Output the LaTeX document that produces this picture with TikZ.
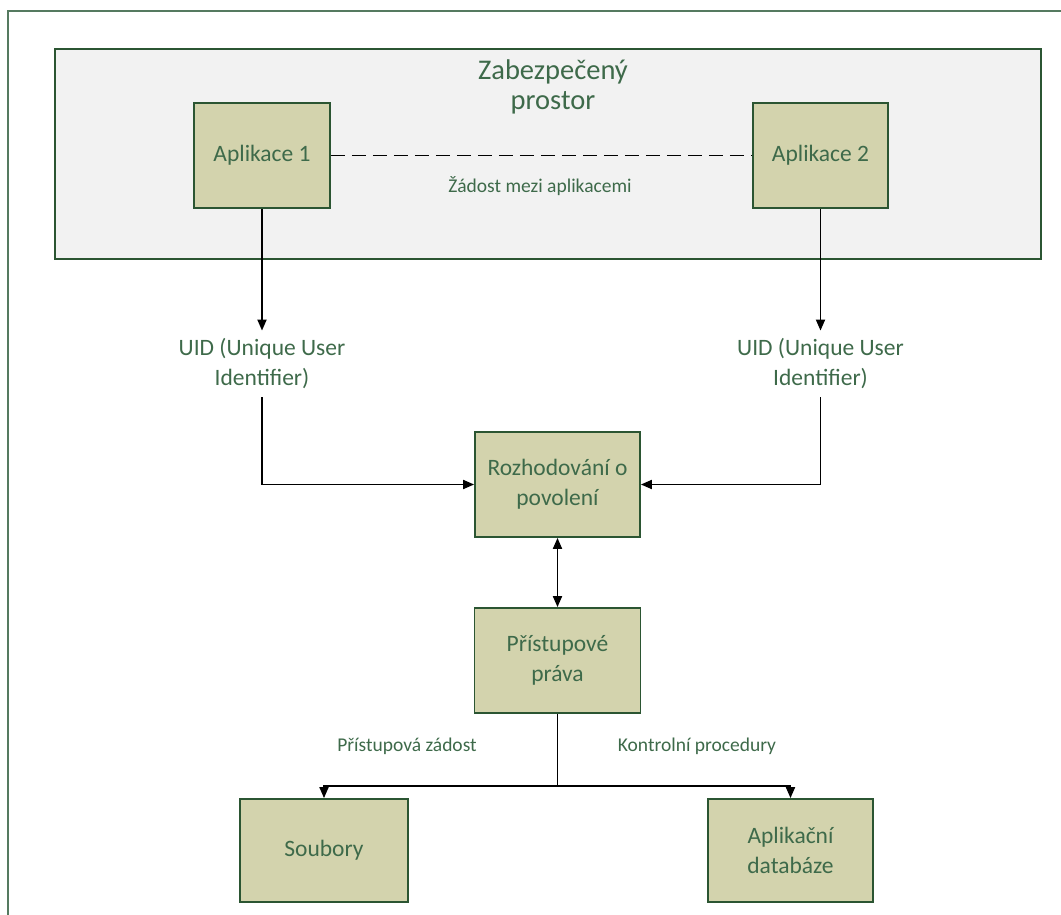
\documentclass[tikz,border=0pt]{standalone}
\usepackage{fontspec}
\setmainfont{Carlito}
\usetikzlibrary{arrows.meta}
\definecolor{txtgreen}{HTML}{3E6A4A}
\definecolor{boxfill}{HTML}{D3D3AD}
\definecolor{boxline}{HTML}{2B5532}
\definecolor{framecol}{HTML}{557A60}
\definecolor{securefill}{HTML}{F2F2F2}
\tikzset{
  box/.style={draw=boxline, line width=1.8pt, fill=boxfill, text=txtgreen,
    align=center, inner sep=0pt, font=\fontsize{23.5}{30}\selectfont},
  lbl/.style={text=txtgreen, align=center, inner sep=0pt, font=\fontsize{19.5}{24}\selectfont},
  uidlbl/.style={text=txtgreen, align=center, inner xsep=0pt, inner ysep=8pt, font=\fontsize{23.5}{30}\selectfont},
  conn/.style={draw=black, line width=1.8pt},
  arr/.style={conn, -{Triangle[length=11pt,width=9pt]}},
  biarr/.style={conn, {Triangle[length=11pt,width=9pt]}-{Triangle[length=11pt,width=9pt]}},
}
\begin{document}
\begin{tikzpicture}[x=1pt,y=-1pt]
\useasboundingbox (0,0) rectangle (1061,915);
\clip (0,0) rectangle (1061,915);
% outer frame
\draw[framecol, line width=1.8pt] (8,930) -- (8,11) -- (1080,11);
% secure space
\draw[boxline, line width=1.8pt, fill=securefill] (55,49) rectangle (1041,259);
\node[text=txtgreen, align=center, inner sep=0pt, font=\fontsize{28.5}{30}\selectfont] (title) at (553,87) {Zabezpečený\\prostor};
% nodes
\node[box, minimum width=136pt, minimum height=105pt] (app1) at (262,155.5) {Aplikace 1};
\node[box, minimum width=135pt, minimum height=105pt] (app2) at (820.5,155.5) {Aplikace 2};
\node[lbl] (req) at (540,186) {Žádost mezi aplikacemi};
\node[uidlbl] (uid1) at (262,364) {UID (Unique User\\Identifier)};
\node[uidlbl] (uid2) at (820.5,364) {UID (Unique User\\Identifier)};
\node[box, minimum width=165pt, minimum height=105pt] (rozh) at (557.5,484.5) {Rozhodování o\\povolení};
\node[box, minimum width=166pt, minimum height=105pt] (prava) at (557.5,660.5) {Přístupové\\práva};
\node[box, minimum width=168pt, minimum height=103pt] (soub) at (324,850.5) {Soubory};
\node[box, minimum width=165pt, minimum height=103pt] (apdb) at (790.5,850.5) {Aplikační\\databáze};
\node[lbl] (pz) at (407,746) {Přístupová zádost};
\node[lbl] (kp) at (697,746) {Kontrolní procedury};
\coordinate (j) at (557.5,786);
% connectors
\draw[conn, dash pattern=on 14pt off 7pt] (app1.east) -- (app2.west);
\draw[arr] (app1.south) -- (uid1.north);
\draw[arr] (app2.south) -- (uid2.north);
\draw[arr] (uid1.south) |- (rozh.west);
\draw[arr] (uid2.south) |- (rozh.east);
\draw[biarr] (rozh.south) -- (prava.north);
\draw[conn] (prava.south) -- (j);
\draw[arr] (j) -| (soub.north);
\draw[arr] (j) -| (apdb.north);
\end{tikzpicture}
\end{document}
